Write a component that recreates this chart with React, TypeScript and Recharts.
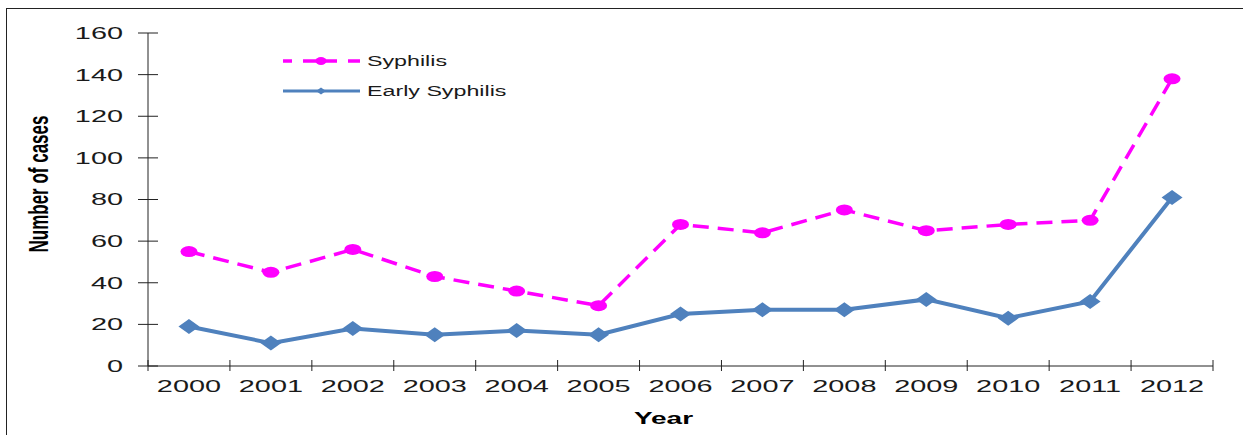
import React from 'react';
import { LineChart, Line, XAxis, YAxis, Legend, Label } from 'recharts';

const YEARS = ['2000', '2001', '2002', '2003', '2004', '2005', '2006', '2007', '2008', '2009', '2010', '2011', '2012'];
const SYPHILIS = [55, 45, 56, 43, 36, 29, 68, 64, 75, 65, 68, 70, 138];
const EARLY_SYPHILIS = [19, 11, 18, 15, 17, 15, 25, 27, 27, 32, 23, 31, 81];
const Y_TICKS = [0, 20, 40, 60, 80, 100, 120, 140, 160];
const SERIES_NAMES = ['Syphilis', 'Early Syphilis'];

const MAGENTA = '#FF00FF';
const BLUE = '#4F81BD';
const INK = '#1a1a1a';
const FONT = '"Liberation Sans", Arial, Helvetica, sans-serif';
const SX = 1.75;

const data = YEARS.map((year, i) => ({
  idx: i,
  year,
  syphilis: SYPHILIS[i],
  early: EARLY_SYPHILIS[i],
}));

const X_TICKS: number[] = [];
YEARS.forEach((_, i) => {
  X_TICKS.push(i - 0.5);
  X_TICKS.push(i);
});
X_TICKS.push(YEARS.length - 0.5);

const YTick = (props: any) => {
  const { x, y, payload } = props;
  return (
    <g>
      <line x1={x - 10} x2={x + 10} y1={y} y2={y} stroke="#222" strokeWidth={1} />
      <g transform={`translate(${x - 25},${y}) scale(${SX},1)`}>
        <text x={0} y={0} dy="0.36em" textAnchor="end" fontSize={16.5} fill={INK} fontFamily={FONT}>
          {payload.value}
        </text>
      </g>
    </g>
  );
};

const XTick = (props: any) => {
  const { x, y, payload } = props;
  const v = payload.value;
  if (!Number.isInteger(v)) {
    return <line x1={x} x2={x} y1={y - 6} y2={y + 5} stroke="#222" strokeWidth={1} />;
  }
  return (
    <g transform={`translate(${x},${y + 26}) scale(${SX},1)`}>
      <text x={0} y={0} textAnchor="middle" fontSize={16.5} fill={INK} fontFamily={FONT}>
        {YEARS[v]}
      </text>
    </g>
  );
};

const EllipseDot = (props: any) => {
  const { cx, cy, index } = props;
  if (cx == null || cy == null) return null;
  return <ellipse key={`s-${index}`} cx={cx} cy={cy} rx={8.5} ry={5.5} fill={MAGENTA} />;
};

const DiamondDot = (props: any) => {
  const { cx, cy, index } = props;
  if (cx == null || cy == null) return null;
  return (
    <polygon
      key={`e-${index}`}
      points={`${cx - 10.5},${cy} ${cx},${cy - 7.5} ${cx + 10.5},${cy} ${cx},${cy + 7.5}`}
      fill={BLUE}
    />
  );
};

const YLabel = (props: any) => {
  const vb = props.viewBox || { x: 0, y: 0, width: 0, height: 0 };
  return (
    <g transform={`translate(${vb.x + 38},${vb.y + vb.height / 2 - 15.5}) rotate(-90) scale(1,1.6)`}>
      <text x={0} y={0} dy="0.36em" textAnchor="middle" fontSize={17} fontWeight="bold" fill="#000" fontFamily={FONT}>
        Number of cases
      </text>
    </g>
  );
};

const XLabel = (props: any) => {
  const vb = props.viewBox || { x: 0, y: 0, width: 0, height: 0 };
  return (
    <g transform={`translate(${vb.x + vb.width / 2 - 17},${vb.y + 58}) scale(${SX},1)`}>
      <text x={0} y={0} textAnchor="middle" fontSize={16} fontWeight="bold" fill="#000" fontFamily={FONT}>
        Year
      </text>
    </g>
  );
};

const LegendContent = () => (
  <svg width={250} height={54} style={{ overflow: 'visible', display: 'block' }}>
    <line x1={0} x2={77} y1={11} y2={11} stroke={MAGENTA} strokeWidth={3.5} strokeDasharray="9 11 34 11 12" />
    <ellipse cx={38} cy={11} rx={5.5} ry={4} fill={MAGENTA} />
    <g transform={`translate(84,16) scale(1.55,1)`}>
      <text x={0} y={0} fontSize={15} fill={INK} fontFamily={FONT}>
        {SERIES_NAMES[0]}
      </text>
    </g>
    <line x1={0} x2={77} y1={41} y2={41} stroke={BLUE} strokeWidth={3} />
    <polygon points={`${38 - 5},41 38,${41 - 3.5} ${38 + 5},41 38,${41 + 3.5}`} fill={BLUE} />
    <g transform={`translate(84,46) scale(1.55,1)`}>
      <text x={0} y={0} fontSize={15} fill={INK} fontFamily={FONT}>
        {SERIES_NAMES[1]}
      </text>
    </g>
  </svg>
);

export default function App() {
  return (
    <div
      style={{
        position: 'absolute',
        left: 0,
        top: 0,
        width: 1243,
        height: 435,
        overflow: 'hidden',
        background: '#fff',
      }}
    >
      <div
        style={{
          position: 'absolute',
          left: 6,
          top: 8,
          right: -10,
          bottom: -10,
          border: '1px solid #222',
        }}
      />
      <div style={{ position: 'absolute', left: 0, top: 0 }}>
        <LineChart width={1243} height={435} data={data} margin={{ top: 33, right: 30, bottom: 0, left: 0 }}>
          <XAxis
            dataKey="idx"
            type="number"
            domain={[-0.5, YEARS.length - 0.5]}
            ticks={X_TICKS}
            interval={0}
            height={69}
            tickSize={0}
            tickMargin={0}
            tickLine={false}
            axisLine={{ stroke: '#222', strokeWidth: 1 }}
            tick={XTick}
          >
            <Label content={XLabel} />
          </XAxis>
          <YAxis
            type="number"
            domain={[0, 160]}
            ticks={Y_TICKS}
            interval={0}
            width={148}
            tickSize={0}
            tickMargin={0}
            tickLine={false}
            axisLine={{ stroke: '#222', strokeWidth: 1 }}
            tick={YTick}
          >
            <Label content={YLabel} />
          </YAxis>
          <Legend
            layout="vertical"
            align="center"
            verticalAlign="middle"
            content={LegendContent}
            wrapperStyle={{ position: 'absolute', left: 283, top: 50, width: 250, height: 54 }}
          />
          <Line
            type="linear"
            dataKey="syphilis"
            name={SERIES_NAMES[0]}
            stroke={MAGENTA}
            strokeWidth={3.5}
            strokeDasharray="16 9"
            dot={EllipseDot}
            activeDot={false}
            isAnimationActive={false}
          />
          <Line
            type="linear"
            dataKey="early"
            name={SERIES_NAMES[1]}
            stroke={BLUE}
            strokeWidth={4}
            dot={DiamondDot}
            activeDot={false}
            isAnimationActive={false}
          />
        </LineChart>
      </div>
    </div>
  );
}
